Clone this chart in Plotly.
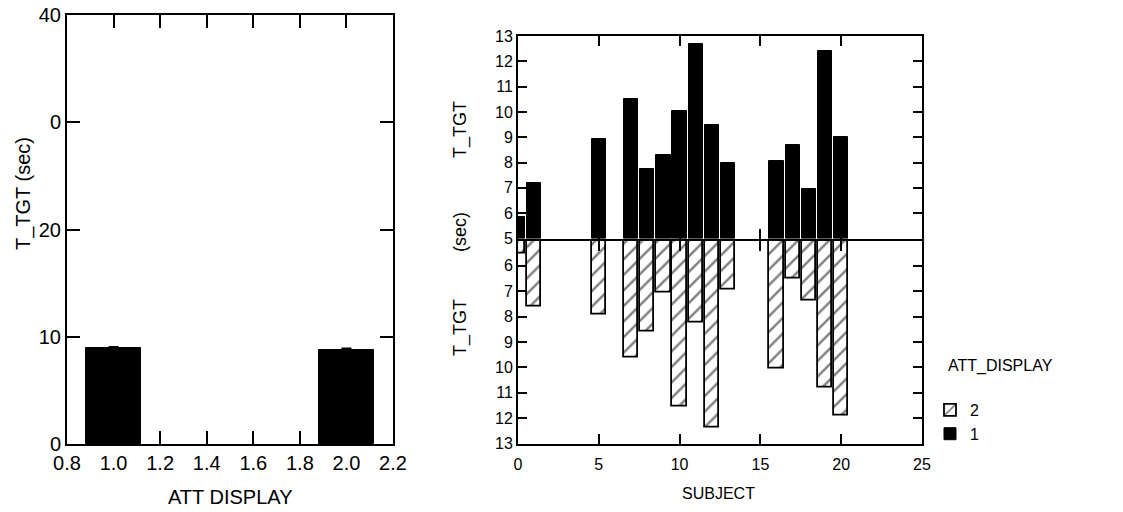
import plotly.graph_objects as go

# ---- data ----
att_levels = [1.0, 2.0]
att_means = [8.95, 8.8]
att_err = [0.1, 0.1]

subjects = [0, 1, 5, 7, 8, 9, 10, 11, 12, 13, 16, 17, 18, 19, 20]
t_tgt_att1 = [5.85, 7.2, 8.95, 10.5, 7.75, 8.3, 10.05, 12.7, 9.5, 8.0, 8.05, 8.7, 6.95, 12.4, 9.0]
t_tgt_att2 = [5.5, 7.6, 7.9, 9.6, 8.6, 7.05, 11.55, 8.25, 12.35, 6.95, 10.05, 6.5, 7.35, 10.8, 11.9]
baseline = 5

left_xticks = [0.8, 1.0, 1.2, 1.4, 1.6, 1.8, 2.0, 2.2]
left_xlabels = ["0.8", "1.0", "1.2", "1.4", "1.6", "1.8", "2.0", "2.2"]
left_yticks = [0, 10, 20, 30, 40]
left_ylabels = ["0", "10", "20", "0", "40"]
right_xticks = [0, 5, 10, 15, 20, 25]
right_yticks = [5, 6, 7, 8, 9, 10, 11, 12, 13]

W, H = 1123, 512
def px(x): return x / W
def py(y): return 1 - y / H

FAM = "Liberation Sans, Arial, sans-serif"
BLACK = "#000000"

fig = go.Figure()

# left panel
fig.add_trace(go.Bar(
    x=att_levels, y=att_means, width=0.235,
    marker=dict(color=BLACK, line=dict(color=BLACK, width=1)),
    error_y=dict(type="data", array=att_err, color=BLACK, thickness=2, width=5),
    xaxis="x", yaxis="y", showlegend=False))

# right panel, ATT 2 (hatched, below)
fig.add_trace(go.Bar(
    x=subjects, y=[v - baseline for v in t_tgt_att2], base=baseline, width=0.88,
    marker=dict(color="white", line=dict(color=BLACK, width=1.8),
                pattern=dict(shape="/", fgcolor=BLACK, bgcolor="white", size=11, solidity=0.22)),
    name="2", legendrank=1, xaxis="x3", yaxis="y3"))

# right panel, ATT 1 (black, above)
fig.add_trace(go.Bar(
    x=subjects, y=[v - baseline for v in t_tgt_att1], base=baseline, width=0.88,
    marker=dict(color=BLACK, line=dict(color=BLACK, width=1)),
    name="1", legendrank=2, xaxis="x2", yaxis="y2"))

axis_common = dict(showline=True, linecolor=BLACK, linewidth=2, mirror="ticks",
                   ticks="inside", tickcolor=BLACK, tickwidth=2, showgrid=False,
                   zeroline=False, automargin=False)

LF = dict(family=FAM, size=20, color=BLACK)
RF = dict(family=FAM, size=16, color=BLACK)
RT = dict(family=FAM, size=18, color=BLACK)

def ann(text, x, y, font, angle=0, xanchor="center"):
    return dict(text=text, x=px(x), y=py(y), xref="paper", yref="paper",
                xanchor=xanchor, yanchor="middle", textangle=angle,
                showarrow=False, font=font)

fig.update_layout(
    width=W, height=H, margin=dict(l=0, r=0, t=0, b=0, autoexpand=False),
    paper_bgcolor="white", plot_bgcolor="white",
    barmode="overlay", bargap=0,
    font=dict(family=FAM, color=BLACK),
    xaxis=dict(domain=[px(67), px(393)], anchor="y", range=[0.8, 2.2],
               tickvals=left_xticks, ticktext=left_xlabels, ticklen=13,
               tickfont=LF, **axis_common),
    yaxis=dict(domain=[py(444), py(15)], anchor="x", range=[0, 40],
               tickvals=left_yticks, ticktext=left_ylabels, ticklen=13,
               tickfont=LF, **axis_common),
    xaxis2=dict(domain=[px(518), px(922)], anchor="y2", range=[0, 25],
                tickvals=right_xticks, showticklabels=False, ticklen=10,
                **axis_common),
    yaxis2=dict(domain=[py(238.5), py(36)], anchor="x2", range=[5, 13],
                tickvals=right_yticks, ticktext=[str(v) for v in right_yticks],
                ticklen=9, tickfont=RF, **axis_common),
    xaxis3=dict(domain=[px(518), px(922)], anchor="y3", range=[0, 25],
                tickvals=right_xticks, ticktext=[str(v) for v in right_xticks],
                ticklen=10, tickfont=RF, ticklabelstandoff=5, **axis_common),
    yaxis3=dict(domain=[py(443.5), py(240.5)], anchor="x3", range=[13, 5],
                tickvals=right_yticks,
                ticktext=[""] + [str(v) for v in right_yticks[1:]],
                ticklen=9, tickfont=RF, **axis_common),
    legend=dict(x=px(930), y=py(393), xanchor="left", yanchor="top",
                font=dict(family=FAM, size=16, color=BLACK), bgcolor="rgba(0,0,0,0)",
                itemwidth=30, tracegroupgap=0),
    annotations=[
        ann("T_TGT (sec)", 23, 194, LF, -90),
        ann("ATT DISPLAY", 230, 497, LF),
        ann("T_TGT", 460, 130, RT, -90),
        ann("(sec)", 460, 232, RT, -90),
        ann("T_TGT", 460, 328, RT, -90),
        ann("SUBJECT", 718, 493, RF),
        ann("ATT_DISPLAY", 946, 366, dict(family=FAM, size=16, color=BLACK), xanchor="left"),
    ],
)

fig.write_html("out.html", config={"displayModeBar": False},
               post_script="document.body.style.margin='0px';")
